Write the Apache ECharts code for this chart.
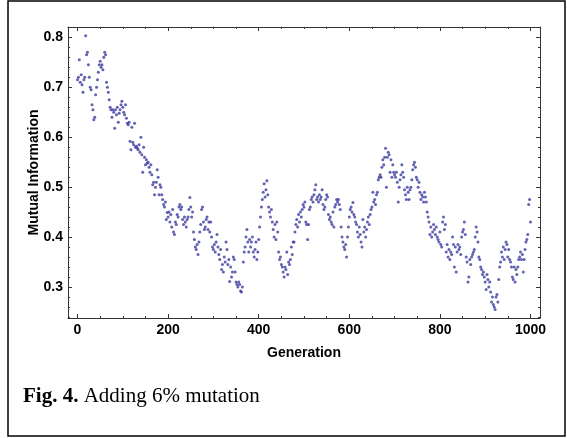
<!DOCTYPE html>
<html>
<head>
<meta charset="utf-8">
<script src="https://cdn.jsdelivr.net/npm/echarts@6/dist/echarts.min.js"></script>
<style>
  html, body { margin: 0; padding: 0; background: #fff; }
  #chartBox { width: 567px; height: 438px; }
</style>
</head>
<body>
<div id="chartBox"></div>
<script>
// one value every 2 generations
const genStep = 2
const mutualInfo = [
  0.715, 0.72, 0.755, 0.71, 0.725, 0.705, 0.69, 0.715, 0.72, 0.803, 0.765, 0.77, 0.745, 0.72, 0.70, 0.695, 0.665, 0.655, 0.635, 0.64, 0.685, 0.70, 0.715, 0.73, 0.745,
  0.752, 0.74, 0.745, 0.735, 0.76, 0.77, 0.765, 0.71, 0.70, 0.69, 0.675, 0.66, 0.655, 0.64, 0.655, 0.65, 0.618, 0.655, 0.645, 0.66, 0.63, 0.648, 0.655, 0.665, 0.672,
  0.66, 0.65, 0.645, 0.665, 0.638, 0.628, 0.625, 0.63, 0.592, 0.575, 0.62, 0.59, 0.585, 0.628, 0.58, 0.582, 0.578, 0.575, 0.585, 0.57, 0.60, 0.565, 0.53, 0.58, 0.56,
  0.545, 0.555, 0.548, 0.55, 0.54, 0.53, 0.545, 0.525, 0.505, 0.51, 0.485, 0.50, 0.51, 0.535, 0.52, 0.485, 0.505, 0.50, 0.485, 0.475, 0.465, 0.46, 0.47, 0.435, 0.449,
  0.44, 0.45, 0.43, 0.445, 0.42, 0.455, 0.41, 0.405, 0.43, 0.425, 0.445, 0.44, 0.46, 0.465, 0.455, 0.46, 0.435, 0.425, 0.44, 0.43, 0.42, 0.435, 0.44, 0.455, 0.479,
  0.46, 0.44, 0.45, 0.41, 0.395, 0.38, 0.375, 0.385, 0.365, 0.39, 0.41, 0.425, 0.455, 0.46, 0.43, 0.415, 0.42, 0.435, 0.44, 0.415, 0.43, 0.41, 0.43, 0.40, 0.38,
  0.375, 0.385, 0.37, 0.39, 0.405, 0.38, 0.365, 0.355, 0.375, 0.335, 0.345, 0.33, 0.36, 0.35, 0.39, 0.375, 0.345, 0.355, 0.311, 0.34, 0.32, 0.33, 0.36, 0.355, 0.33,
  0.31, 0.305, 0.30, 0.31, 0.305, 0.292, 0.29, 0.30, 0.35, 0.37, 0.38, 0.40, 0.415, 0.39, 0.37, 0.395, 0.38, 0.39, 0.40, 0.37, 0.36, 0.375, 0.39, 0.355, 0.37,
  0.395, 0.42, 0.44, 0.46, 0.475, 0.49, 0.507, 0.48, 0.495, 0.513, 0.485, 0.46, 0.45, 0.44, 0.455, 0.43, 0.415, 0.40, 0.425, 0.395, 0.43, 0.41, 0.37, 0.355, 0.36,
  0.345, 0.34, 0.33, 0.32, 0.34, 0.335, 0.37, 0.325, 0.35, 0.345, 0.355, 0.38, 0.365, 0.39, 0.39, 0.41, 0.425, 0.435, 0.42, 0.445, 0.43, 0.45, 0.44, 0.455, 0.465,
  0.46, 0.47, 0.43, 0.425, 0.395, 0.425, 0.455, 0.46, 0.475, 0.48, 0.47, 0.485, 0.495, 0.505, 0.475, 0.48, 0.47, 0.485, 0.475, 0.48, 0.495, 0.465, 0.455, 0.46, 0.475,
  0.485, 0.48, 0.445, 0.435, 0.44, 0.43, 0.425, 0.45, 0.42, 0.46, 0.465, 0.475, 0.47, 0.475, 0.465, 0.455, 0.42, 0.40, 0.39, 0.38, 0.375, 0.385, 0.36, 0.40, 0.42,
  0.44, 0.455, 0.46, 0.45, 0.469, 0.445, 0.44, 0.43, 0.425, 0.41, 0.40, 0.42, 0.405, 0.39, 0.38, 0.435, 0.41, 0.42, 0.40, 0.415, 0.43, 0.44, 0.425, 0.445, 0.455,
  0.46, 0.49, 0.47, 0.475, 0.465, 0.485, 0.49, 0.515, 0.52, 0.525, 0.52, 0.54, 0.555, 0.545, 0.56, 0.578, 0.50, 0.56, 0.57, 0.565, 0.53, 0.555, 0.52, 0.545, 0.53,
  0.525, 0.52, 0.53, 0.51, 0.47, 0.50, 0.515, 0.525, 0.545, 0.53, 0.52, 0.495, 0.485, 0.475, 0.50, 0.49, 0.475, 0.495, 0.50, 0.515, 0.535, 0.545, 0.55, 0.54, 0.52,
  0.515, 0.50, 0.51, 0.49, 0.475, 0.485, 0.48, 0.47, 0.49, 0.48, 0.47, 0.45, 0.44, 0.43, 0.405, 0.42, 0.40, 0.41, 0.425, 0.415, 0.405, 0.42, 0.40, 0.395, 0.39,
  0.41, 0.385, 0.38, 0.43, 0.44, 0.415, 0.425, 0.37, 0.385, 0.36, 0.375, 0.355, 0.37, 0.365, 0.40, 0.385, 0.34, 0.38, 0.33, 0.37, 0.385, 0.375, 0.38, 0.365, 0.40,
  0.41, 0.415, 0.43, 0.405, 0.36, 0.35, 0.31, 0.32, 0.355, 0.345, 0.36, 0.365, 0.37, 0.375, 0.40, 0.42, 0.41, 0.39, 0.36, 0.355, 0.34, 0.335, 0.325, 0.33, 0.32,
  0.31, 0.295, 0.325, 0.315, 0.30, 0.31, 0.29, 0.27, 0.28, 0.265, 0.26, 0.255, 0.28, 0.285, 0.27, 0.315, 0.34, 0.35, 0.37, 0.36, 0.38, 0.355, 0.375, 0.39, 0.385,
  0.36, 0.375, 0.355, 0.35, 0.34, 0.32, 0.315, 0.34, 0.31, 0.335, 0.325, 0.34, 0.355, 0.36, 0.37, 0.355, 0.365, 0.33, 0.355, 0.375, 0.39, 0.395, 0.405, 0.465, 0.475,
  0.43
]

const xTicks = [0, 200, 400, 600, 800, 1000]
const xMinorTicks = [50, 100, 150, 250, 300, 350, 450, 500, 550, 650, 700, 750, 850, 900, 950]
const yTicks = [0.3, 0.4, 0.5, 0.6, 0.7, 0.8]
const yMinorTicks = [0.24, 0.26, 0.28, 0.32, 0.34, 0.36, 0.38, 0.42, 0.44, 0.46, 0.48,
  0.52, 0.54, 0.56, 0.58, 0.62, 0.64, 0.66, 0.68, 0.72, 0.74, 0.76, 0.78, 0.82]

const xRange = [-21, 1021]
const yRange = [0.238, 0.8206]

const frameColor = '#333'
const labelFont = { color: '#000', fontWeight: 'bold', fontSize: 14, fontFamily: 'Liberation Sans, Arial, sans-serif' }

function frameAxis(position, ticks, len, withLine, range) {
  return {
    type: 'value',
    position: position,
    min: range[0],
    max: range[1],
    axisLine: { show: withLine, onZero: false, lineStyle: { color: frameColor, width: 1 } },
    axisTick: { show: true, inside: true, length: len, customValues: ticks, lineStyle: { color: frameColor, width: 1 } },
    axisLabel: { show: false },
    splitLine: { show: false }
  }
}

let myChart = echarts.init(document.getElementById('chartBox'), null, { renderer: 'canvas' })

let xMain = frameAxis('bottom', xTicks, 4, true, xRange)
xMain.axisLabel = Object.assign({ show: true, margin: 5, customValues: xTicks, formatter: v => String(v) }, labelFont)
xMain.name = 'Generation'
xMain.nameLocation = 'middle'
xMain.nameGap = 28
xMain.nameTextStyle = labelFont

let yMain = frameAxis('left', yTicks, 4, true, yRange)
yMain.axisLabel = Object.assign({ show: true, margin: 5, customValues: yTicks, formatter: v => v.toFixed(1) }, labelFont)
yMain.name = 'Mutual Information'
yMain.nameLocation = 'middle'
yMain.nameGap = 27
yMain.nameMoveOverlap = false
yMain.nameTextStyle = labelFont

myChart.setOption({
  animation: false,
  backgroundColor: '#fff',
  grid: { left: 68, right: 27, top: 27, bottom: 120, containLabel: false },
  xAxis: [
    xMain,
    frameAxis('bottom', xMinorTicks, 2, false, xRange),
    frameAxis('top', xTicks, 4, true, xRange),
    frameAxis('top', xMinorTicks, 2, false, xRange)
  ],
  yAxis: [
    yMain,
    frameAxis('left', yMinorTicks, 2, false, yRange),
    frameAxis('right', yTicks, 4, true, yRange),
    frameAxis('right', yMinorTicks, 2, false, yRange)
  ],
  series: [
    {
      type: 'scatter',
      xAxisIndex: 0,
      yAxisIndex: 0,
      symbol: 'circle',
      symbolSize: 3,
      itemStyle: { color: '#3b3ba0' },
      data: mutualInfo.map((v, i) => [i * genStep, v])
    }
  ],
  graphic: [
    {
      type: 'rect',
      shape: { x: 8, y: 1, width: 557, height: 435 },
      style: { fill: 'none', stroke: '#000', lineWidth: 1.5 },
      silent: true
    },
    {
      type: 'text',
      left: 23,
      top: 386,
      style: {
        text: '{b|Fig. 4.} Adding 6% mutation',
        font: '21px "Liberation Serif", "Times New Roman", serif',
        fill: '#000',
        rich: {
          b: { fontWeight: 'bold', fontSize: 21, fontFamily: 'Liberation Serif, Times New Roman, serif', fill: '#000' }
        }
      }
    }
  ]
})
</script>
</body>
</html>
